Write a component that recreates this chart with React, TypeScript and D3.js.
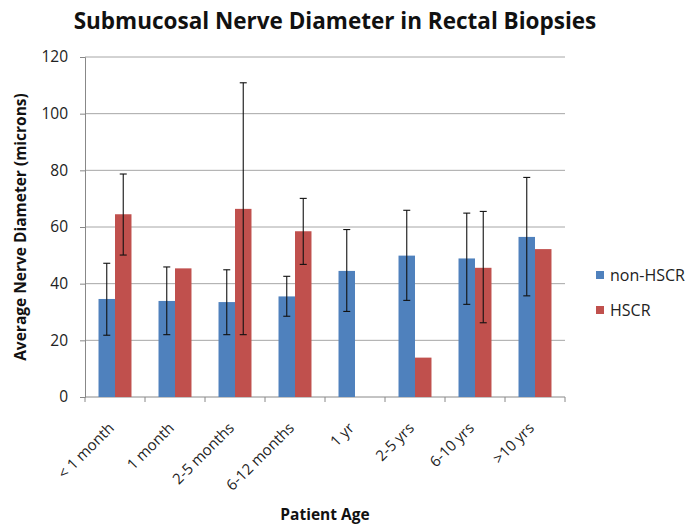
import React, { useEffect, useRef } from 'react';
import * as d3 from 'd3';

const categories = ['< 1 month', '1 month', '2-5 months', '6-12 months', '1 yr', '2-5 yrs', '6-10 yrs', '>10 yrs'];
const seriesNames = ['non-HSCR', 'HSCR'];
const nonHscr = [34.6, 33.9, 33.5, 35.5, 44.5, 49.9, 48.9, 56.5];
const nonHscrLow = [21.8, 22.0, 22.0, 28.5, 30.2, 34.1, 32.7, 35.7];
const nonHscrHigh = [47.2, 45.9, 44.9, 42.6, 59.1, 65.9, 64.9, 77.5];
const hscr = [64.5, 45.4, 66.4, 58.5, 0, 13.9, 45.6, 52.2];
const hscrLow = [50.1, null, 22.0, 46.8, null, null, 26.2, null];
const hscrHigh = [78.7, null, 110.9, 70.1, null, null, 65.5, null];
const yTicks = [0, 20, 40, 60, 80, 100, 120];
const colors = ['#4F81BD', '#C0504D'];

const font = '"Open Sans", "Noto Sans", sans-serif';

const Chart: React.FC = () => {
  const svgRef = useRef<SVGSVGElement>(null);

  useEffect(() => {
    if (!svgRef.current) return;
    const svg = d3.select(svgRef.current);
    svg.selectAll('*').remove();

    const left = 85, right = 565, top = 57, bottom = 397;

    const x = d3.scaleBand<string>().domain(categories).range([left, right]);
    // each pair of bars takes ~55% of the category slot
    const inner = d3.scaleBand<string>().domain(seriesNames).range([0, x.bandwidth()]).paddingOuter(0.82);
    const y = d3.scaleLinear().domain([0, 120]).range([bottom, top]);

    // title
    svg.append('text')
      .attr('x', 335).attr('y', 29)
      .attr('text-anchor', 'middle')
      .attr('font-family', font).attr('font-weight', 'bold').attr('font-size', 22.5)
      .attr('fill', '#111')
      .text('Submucosal Nerve Diameter in Rectal Biopsies');

    // gridlines
    svg.append('g').selectAll('line').data(yTicks.filter(t => t > 0)).enter().append('line')
      .attr('x1', left).attr('x2', right)
      .attr('y1', d => y(d)).attr('y2', d => y(d))
      .attr('stroke', '#a6a6a6').attr('stroke-width', 1);

    // y axis
    const yAxis = d3.axisLeft(y).tickValues(yTicks).tickSize(5).tickPadding(12);
    const yg = svg.append('g').attr('transform', `translate(${left},0)`).call(yAxis);
    yg.select('.domain').attr('stroke', '#888');
    yg.selectAll('.tick line').attr('stroke', '#888');
    yg.selectAll('.tick text').attr('font-family', font).attr('font-size', 15.5).attr('fill', '#222');

    // x axis
    const xg = svg.append('g').attr('transform', `translate(0,${bottom})`);
    xg.append('line').attr('x1', left).attr('x2', right).attr('y1', 0).attr('y2', 0).attr('stroke', '#888');
    xg.selectAll('line.tk').data(d3.range(categories.length + 1)).enter().append('line')
      .attr('class', 'tk')
      .attr('x1', i => left + i * x.step()).attr('x2', i => left + i * x.step())
      .attr('y1', 0).attr('y2', 5).attr('stroke', '#888');
    xg.selectAll('text').data(categories).enter().append('text')
      .attr('transform', d => `translate(${(x(d) as number) + x.bandwidth() / 2},${32}) rotate(-45)`)
      .attr('text-anchor', 'end')
      .attr('font-family', font).attr('font-size', 15).attr('fill', '#222')
      .text(d => d);

    // bars
    const seriesData = [nonHscr, hscr];
    const lows = [nonHscrLow, hscrLow];
    const highs = [nonHscrHigh, hscrHigh];
    seriesNames.forEach((s, si) => {
      const g = svg.append('g');
      g.selectAll('rect').data(categories).enter().append('rect')
        .attr('x', d => (x(d) as number) + (inner(s) as number))
        .attr('width', inner.bandwidth())
        .attr('y', (d, i) => y(seriesData[si][i]))
        .attr('height', (d, i) => bottom - y(seriesData[si][i]))
        .attr('fill', colors[si]);
    });

    // error bars
    seriesNames.forEach((s, si) => {
      const g = svg.append('g').attr('stroke', '#111').attr('stroke-width', 1.1);
      categories.forEach((c, i) => {
        const lo = lows[si][i], hi = highs[si][i];
        if (lo == null || hi == null) return;
        const cx = (x(c) as number) + (inner(s) as number) + inner.bandwidth() / 2;
        g.append('line').attr('x1', cx).attr('x2', cx).attr('y1', y(lo)).attr('y2', y(hi));
        [lo, hi].forEach(v => {
          g.append('line').attr('x1', cx - 3.5).attr('x2', cx + 3.5).attr('y1', y(v)).attr('y2', y(v));
        });
      });
    });

    // axis titles
    svg.append('text')
      .attr('transform', `translate(26,${(top + bottom) / 2}) rotate(-90)`)
      .attr('text-anchor', 'middle')
      .attr('font-family', font).attr('font-weight', 'bold').attr('font-size', 15.5)
      .attr('fill', '#111')
      .text('Average Nerve Diameter (microns)');
    svg.append('text')
      .attr('x', 325).attr('y', 520)
      .attr('text-anchor', 'middle')
      .attr('font-family', font).attr('font-weight', 'bold').attr('font-size', 15.5)
      .attr('fill', '#111')
      .text('Patient Age');

    // legend
    const lg = svg.append('g').attr('transform', 'translate(596,271)');
    seriesNames.forEach((s, si) => {
      lg.append('rect').attr('x', 0).attr('y', si * 35).attr('width', 8).attr('height', 8).attr('fill', colors[si]);
      lg.append('text').attr('x', 14).attr('y', si * 35 + 10)
        .attr('font-family', font).attr('font-size', 16).attr('fill', '#222')
        .text(s);
    });
  }, []);

  return <svg ref={svgRef} width={690} height={524} style={{ display: 'block' }}></svg>;
};

export default function App() {
  return (
    <div style={{ position: 'absolute', left: 0, top: 0, width: 690, height: 524, background: '#fff' }}>
      <Chart />
    </div>
  );
}
